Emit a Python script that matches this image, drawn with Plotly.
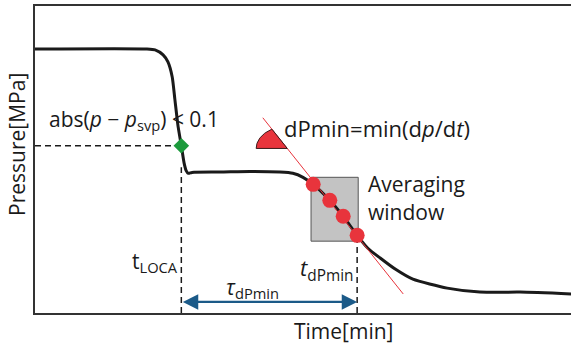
import numpy as np
import plotly.graph_objects as go

# Pressure transient (time in min, pressure in MPa)
time_min = [0.0, 20.9, 22.4, 23.9, 24.8, 25.6, 26.1, 26.7, 27.3, 27.8, 28.2, 28.6,
            29.3, 34.5, 40.1, 45.7, 48.1, 50.0, 51.9, 55.0, 57.5, 60.1, 62.1, 64.4,
            67.2, 70.5, 76.9, 83.0, 90.5, 100.0]
pressure = [8.60, 8.60, 8.57, 8.41, 8.18, 7.69, 6.95, 6.07, 5.45, 4.90, 4.64, 4.55,
            4.58, 4.59, 4.61, 4.59, 4.55, 4.42, 4.19, 3.67, 3.15, 2.53, 2.11, 1.79,
            1.43, 1.10, 0.81, 0.68, 0.68, 0.62]

# Event markers
t_loca = 27.3
p_loca = 5.45
window_t = [51.9, 55.0, 57.5, 60.1]
window_p = [4.19, 3.67, 3.15, 2.53]
t_dpmin = window_t[-1]

# Tangent line at the steepest descent
tangent_t = [42.5, 68.7]
tangent_p = [6.36, 0.62]

# Averaging window box
box_t = [51.5, 60.3]
box_p = [2.34, 4.42]

arrow_p = 0.36
x_range = [0, 100]
y_range = [0, 10]

BLACK = "#1a1a1a"
RED = "#e8343c"
FONT = "Open Sans"

fig = go.Figure()

# averaging window
fig.add_trace(go.Scatter(
    x=[box_t[0], box_t[1], box_t[1], box_t[0], box_t[0]],
    y=[box_p[0], box_p[0], box_p[1], box_p[1], box_p[0]],
    mode="lines", fill="toself", fillcolor="#c3c3c3",
    line=dict(color="#555555", width=1), hoverinfo="skip"))

# dashed guides
dash = dict(color=BLACK, width=1.5, dash="6px,4px")
fig.add_trace(go.Scatter(x=[0, t_loca], y=[p_loca, p_loca], mode="lines", line=dash))
fig.add_trace(go.Scatter(x=[t_loca, t_loca], y=[0, 4.75], mode="lines", line=dash))
fig.add_trace(go.Scatter(x=[t_dpmin, t_dpmin], y=[0, window_p[-1]], mode="lines", line=dash))

# pressure curve
fig.add_trace(go.Scatter(x=time_min, y=pressure, mode="lines",
                         line=dict(color=BLACK, width=3, shape="spline", smoothing=0.6)))

# tangent line
fig.add_trace(go.Scatter(x=tangent_t, y=tangent_p, mode="lines",
                         line=dict(color=RED, width=1)))

# angle sector between the tangent and the horizontal
slope = (tangent_p[1] - tangent_p[0]) / (tangent_t[1] - tangent_t[0])
vertex_p = 5.36
vertex_t = tangent_t[0] + (vertex_p - tangent_p[0]) / slope
rx, ry = 5.8, 0.72
theta0 = np.arctan2(-slope / ry, -1.0 / rx)
theta = np.linspace(theta0, np.pi, 40)
sec_t = np.concatenate([[vertex_t], vertex_t + rx * np.cos(theta), [vertex_t]])
sec_p = np.concatenate([[vertex_p], vertex_p + ry * np.sin(theta), [vertex_p]])
fig.add_trace(go.Scatter(x=sec_t, y=sec_p, mode="lines", fill="toself",
                         fillcolor=RED, line=dict(color="#3a1a1a", width=1)))

# sampled points in the window
fig.add_trace(go.Scatter(x=window_t, y=window_p, mode="markers",
                         marker=dict(color=RED, size=15, line=dict(width=0))))

# threshold crossing
fig.add_trace(go.Scatter(x=[t_loca], y=[p_loca], mode="markers",
                         marker=dict(color="#1c9a3c", size=12, symbol="diamond",
                                     line=dict(width=0))))

ann = []
def label(x, y, text, xanchor="left", size=21):
    ann.append(dict(x=x, y=y, xref="x", yref="y", text=text, showarrow=False,
                    xanchor=xanchor, yanchor="middle",
                    font=dict(family=FONT, size=size, color=BLACK)))

label(2.3, 6.30, "abs(<i>p</i> − <i>p</i><sub>svp</sub>) &lt; 0.1")
label(46.1, 6.04, "dPmin=min(d<i>p</i>/d<i>t</i>)", size=22)
label(61.8, 4.19, "Averaging")
label(61.8, 3.28, "window")
label(27.0, 1.66, "t<sub>LOCA</sub>", xanchor="right")
label(59.8, 1.43, "<i>t</i><sub>dPmin</sub>", xanchor="right", size=22)
label(40.5, 0.80, "<i>τ</i><sub>dPmin</sub>", xanchor="center")

# duration arrow
ann.append(dict(x=t_dpmin, y=arrow_p, ax=t_loca, ay=arrow_p, xref="x", yref="y",
                axref="x", ayref="y", text="", showarrow=True, arrowside="end+start",
                arrowhead=2, arrowsize=1.4, arrowwidth=2.2, arrowcolor="#1b5a88",
                standoff=0, startstandoff=0))

# axis titles
ann.append(dict(x=0.575, y=-0.06, xref="paper", yref="paper", text="Time[min]",
                showarrow=False, xanchor="center", yanchor="middle",
                font=dict(family=FONT, size=21, color=BLACK)))
ann.append(dict(x=-0.034, y=0.55, xref="paper", yref="paper", text="Pressure[MPa]",
                showarrow=False, xanchor="center", yanchor="middle", textangle=-90,
                font=dict(family=FONT, size=21, color=BLACK)))

fig.update_layout(
    width=572, height=350,
    margin=dict(l=35, r=1, t=6, b=37),
    paper_bgcolor="white", plot_bgcolor="white",
    showlegend=False, annotations=ann,
    xaxis=dict(range=x_range, showgrid=False, zeroline=False, showticklabels=False,
               ticks="", showline=True, linecolor="#333333", linewidth=2, mirror=True),
    yaxis=dict(range=y_range, showgrid=False, zeroline=False, showticklabels=False,
               ticks="", showline=True, linecolor="#333333", linewidth=2),
)

fig.write_html("out.html")
